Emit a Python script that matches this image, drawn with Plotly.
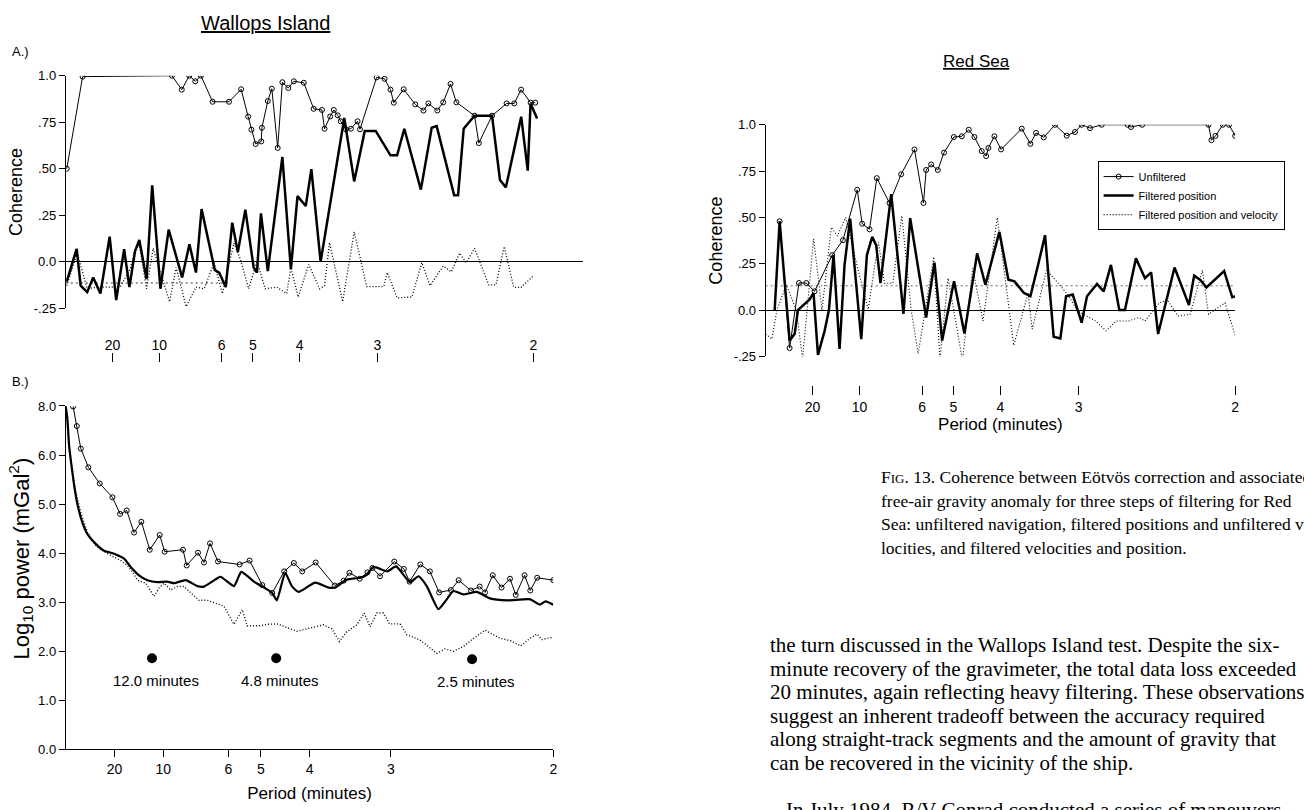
import plotly.graph_objects as go

W, H = 1304, 810

# ---------------- period ticks (x axis is frequency = 1/period) ----------------
period_ticks = [20, 10, 6, 5, 4, 3, 2]
tick_text = ["20", "10", "6", "5", "4", "3", "2"]
tick_freq = [1.0 / p for p in period_ticks]

# ---------------- Panel A: Wallops Island coherence ----------------
wa_unf_f = [0.001, 0.018, 0.1135, 0.124, 0.132, 0.1385, 0.1445, 0.157, 0.1745, 0.1875, 0.195, 0.1985, 0.203,
            0.209, 0.2097, 0.216, 0.2203, 0.2266, 0.2316, 0.2379, 0.2439, 0.2545, 0.2651, 0.2739, 0.2767, 0.2827,
            0.2866, 0.2908, 0.294, 0.2996, 0.3049, 0.312, 0.3146, 0.3324, 0.3409, 0.3472, 0.3507, 0.3613, 0.3737,
            0.3825, 0.3877, 0.3973, 0.4036, 0.4114, 0.4177, 0.4371, 0.4417, 0.4558, 0.4714, 0.4796, 0.4869,
            0.4971, 0.502]
wa_unf_c = [0.50, 0.995, 1.0, 0.925, 1.0, 0.97, 1.0, 0.86, 0.86, 0.927, 0.78, 0.71, 0.633, 0.647, 0.72, 0.864,
            0.93, 0.612, 0.965, 0.934, 0.97, 0.962, 0.822, 0.816, 0.715, 0.781, 0.816, 0.787, 0.755, 0.712, 0.715,
            0.755, 0.712, 0.991, 0.983, 0.925, 0.855, 0.927, 0.846, 0.813, 0.851, 0.813, 0.857, 0.956, 0.857,
            0.785, 0.638, 0.785, 0.851, 0.851, 0.925, 0.855, 0.855]

wa_pos_f = [0.001, 0.0116, 0.0159, 0.0229, 0.0293, 0.037, 0.0469, 0.0539, 0.0624, 0.068, 0.074, 0.0786, 0.0864,
            0.0924, 0.1012, 0.11, 0.1244, 0.1322, 0.1392, 0.1452, 0.1593, 0.164, 0.171, 0.178, 0.184, 0.192,
            0.2009, 0.2044, 0.2087, 0.216, 0.2316, 0.2407, 0.2478, 0.2566, 0.2626, 0.2725, 0.2978, 0.3084, 0.3197,
            0.3314, 0.3472, 0.3543, 0.362, 0.3797, 0.3913, 0.3966, 0.4153, 0.4195, 0.4255, 0.4371, 0.4558, 0.4643,
            0.4706, 0.487, 0.494, 0.497, 0.504]
wa_pos_c = [-0.107, 0.07, -0.128, -0.163, -0.084, -0.171, 0.135, -0.206, 0.068, -0.136, 0.056, 0.117, -0.093,
            0.411, -0.145, 0.173, -0.084, 0.094, -0.058, 0.283, -0.044, -0.058, -0.136, 0.21, 0.052, 0.28, -0.031,
            -0.058, 0.26, -0.05, 0.563, -0.04, 0.353, 0.30, 0.498, 0.0, 0.773, 0.432, 0.703, 0.703, 0.572, 0.572,
            0.715, 0.388, 0.72, 0.729, 0.357, 0.357, 0.715, 0.785, 0.785, 0.44, 0.40, 0.78, 0.49, 0.85, 0.77]

wa_pv_f = [0.001, 0.0123, 0.0229, 0.0335, 0.058, 0.0687, 0.074, 0.0786, 0.0864, 0.0934, 0.111, 0.118, 0.1287,
           0.1392, 0.148, 0.1586, 0.1674, 0.1798, 0.1868, 0.1956, 0.2044, 0.2133, 0.2255, 0.2362, 0.2407, 0.2485,
           0.2598, 0.2714, 0.2767, 0.282, 0.2961, 0.3084, 0.3218, 0.3401, 0.3437, 0.3543, 0.3701, 0.3807, 0.3895,
           0.4036, 0.4124, 0.4212, 0.4283, 0.4371, 0.4522, 0.46, 0.4688, 0.479, 0.487, 0.4997]
wa_pv_c = [-0.128, 0.047, -0.145, -0.136, -0.136, -0.04, 0.065, 0.09, -0.145, 0.073, -0.215, -0.031, -0.241,
           -0.136, -0.145, -0.005, -0.171, 0.1, 0.012, -0.145, 0.003, -0.145, -0.136, -0.171, -0.031, -0.189,
           -0.014, -0.145, -0.128, 0.103, -0.215, 0.161, -0.133, -0.133, -0.058, -0.194, -0.189, -0.005, -0.128,
           -0.023, -0.054, 0.047, -0.005, 0.073, -0.124, -0.124, 0.082, -0.137, -0.137, -0.077]
wa_sig_level = -0.114
wa_sig_fmax = 0.175

# ---------------- Panel B: Wallops Island log10 power ----------------
wb_unf_f = [0.0075, 0.0113, 0.0154, 0.0232, 0.0348, 0.0478, 0.0557, 0.0625, 0.07, 0.0775, 0.0861, 0.0963, 0.1014,
            0.1202, 0.124, 0.1356, 0.1417, 0.1479, 0.1561, 0.1783, 0.1885, 0.2015, 0.2117, 0.224, 0.2339, 0.2425,
            0.2563, 0.2759, 0.285, 0.2909, 0.3015, 0.3094, 0.3145, 0.3223, 0.3369, 0.3467, 0.3526, 0.3636, 0.3734,
            0.3829, 0.395, 0.4029, 0.4155, 0.4245, 0.43, 0.4379, 0.4469, 0.4556, 0.4615, 0.4705, 0.4764, 0.4835,
            0.5]
wb_unf_p = [7.98, 7.18, 6.26, 5.75, 5.42, 5.14, 4.8, 4.87, 4.42, 4.64, 4.07, 4.37, 4.03, 4.07, 3.75, 4.01, 3.81,
            4.2, 3.83, 3.77, 3.85, 3.35, 3.19, 3.63, 3.8, 3.63, 3.81, 3.34, 3.44, 3.6, 3.48, 3.61, 3.7, 3.53, 3.83,
            3.68, 3.42, 3.77, 3.63, 3.2, 3.25, 3.45, 3.24, 3.32, 3.2, 3.55, 3.3, 3.48, 3.15, 3.55, 3.24, 3.5, 3.45]

wb_pos_f = [0.0, 0.0017, 0.0034, 0.0058, 0.0085, 0.012, 0.0171, 0.0222, 0.0307, 0.0393, 0.0495, 0.0598, 0.0666,
            0.0751, 0.0837, 0.0939, 0.1042, 0.111, 0.123, 0.1349, 0.1417, 0.1554, 0.1588, 0.1725, 0.18, 0.193,
            0.2015, 0.2117, 0.2165, 0.225, 0.2318, 0.2387, 0.2558, 0.2695, 0.2763, 0.2882, 0.3019, 0.3087, 0.3156,
            0.3299, 0.3388, 0.3531, 0.3617, 0.3702, 0.3822, 0.3907, 0.3975, 0.4078, 0.4215, 0.4351, 0.4528,
            0.4764, 0.4862, 0.4921, 0.5]
wb_pos_p = [7.98, 7.44, 6.38, 5.79, 5.39, 4.99, 4.62, 4.39, 4.19, 4.05, 3.99, 3.89, 3.72, 3.55, 3.45, 3.41, 3.42,
            3.39, 3.45, 3.33, 3.32, 3.49, 3.52, 3.33, 3.62, 3.42, 3.32, 3.19, 3.04, 3.6, 3.33, 3.21, 3.4, 3.3, 3.3,
            3.46, 3.5, 3.56, 3.72, 3.63, 3.73, 3.41, 3.53, 3.33, 2.86, 3.06, 3.23, 3.16, 3.21, 3.08, 3.04, 3.06,
            2.95, 3.02, 2.95]

wb_pv_f = [0.0, 0.0034, 0.0068, 0.0102, 0.0154, 0.0222, 0.0307, 0.0427, 0.0564, 0.0632, 0.0683, 0.0734, 0.082,
           0.0905, 0.0956, 0.1008, 0.1076, 0.1144, 0.1212, 0.1281, 0.1366, 0.1452, 0.152, 0.1622, 0.1725, 0.181,
           0.1861, 0.1998, 0.2066, 0.2165, 0.237, 0.2507, 0.2643, 0.2729, 0.2807, 0.2882, 0.2985, 0.306, 0.3121,
           0.319, 0.3258, 0.332, 0.3429, 0.3497, 0.3634, 0.3805, 0.389, 0.3975, 0.4078, 0.418, 0.43, 0.445,
           0.4568, 0.4666, 0.4764, 0.4835, 0.4882, 0.5]
wb_pv_p = [7.9, 6.24, 5.69, 5.25, 4.82, 4.42, 4.15, 3.99, 3.85, 3.75, 3.62, 3.45, 3.39, 3.12, 3.29, 3.39, 3.25,
           3.32, 3.32, 3.19, 3.04, 3.04, 2.99, 2.92, 2.55, 2.85, 2.52, 2.52, 2.55, 2.56, 2.41, 2.48, 2.54, 2.46,
           2.2, 2.4, 2.54, 2.78, 2.5, 2.78, 2.78, 2.56, 2.56, 2.34, 2.23, 1.96, 2.05, 2.0, 2.1, 2.26, 2.43, 2.27,
           2.21, 2.11, 2.27, 2.35, 2.24, 2.29]

wb_marker_f = [0.0884, 0.2158, 0.4167]
wb_marker_p = [1.86, 1.86, 1.84]
wb_marker_text = ["12.0 minutes", "4.8 minutes", "2.5 minutes"]

wb_ticks = [0, 1, 2, 3, 4, 5, 6, 8]
wb_tick_text = ["0.0", "1.0", "2.0", "3.0", "4.0", "5.0", "6.0", "8.0"]

# ---------------- Red Sea coherence ----------------
rs_unf_f = [0.0149, 0.0255, 0.0355, 0.0433, 0.0521, 0.0709, 0.0823, 0.0975, 0.1028, 0.1106, 0.1184, 0.1319,
            0.1443, 0.1585, 0.1681, 0.1709, 0.1762, 0.1833, 0.19, 0.2004, 0.2089, 0.2163, 0.2223, 0.2301, 0.2348,
            0.2372, 0.2436, 0.2507, 0.2727, 0.2819, 0.2879, 0.2961, 0.3082, 0.3206, 0.3294, 0.3365, 0.3454,
            0.3578, 0.3855, 0.389, 0.4009, 0.4716, 0.4747, 0.479, 0.4869, 0.4934, 0.5]
rs_unf_c = [0.479, -0.205, 0.146, 0.146, 0.101, 0.297, 0.377, 0.649, 0.466, 0.436, 0.712, 0.578, 0.733, 0.867,
            0.578, 0.756, 0.786, 0.756, 0.85, 0.934, 0.938, 0.973, 0.934, 0.858, 0.831, 0.875, 0.938, 0.867, 0.979,
            0.897, 0.956, 0.932, 1.0, 0.941, 0.961, 1.0, 0.982, 1.0, 1.0, 0.988, 1.0, 1.0, 0.917, 0.94, 1.0, 1.0,
            0.94]

rs_pos_f = [0.0096, 0.0149, 0.0255, 0.0309, 0.0344, 0.0468, 0.051, 0.0557, 0.0628, 0.0674, 0.0723, 0.0787, 0.084,
            0.09, 0.1018, 0.1078, 0.1135, 0.1177, 0.1223, 0.1319, 0.1337, 0.1468, 0.1539, 0.1709, 0.1798, 0.1879,
            0.2006, 0.2117, 0.2252, 0.234, 0.2489, 0.2585, 0.2649, 0.2748, 0.2819, 0.2897, 0.2975, 0.3067, 0.3138,
            0.3199, 0.327, 0.3365, 0.3422, 0.3528, 0.3599, 0.3677, 0.3766, 0.3826, 0.3883, 0.3943, 0.4039, 0.4105,
            0.4179, 0.4354, 0.4507, 0.4563, 0.4629, 0.4694, 0.4882, 0.4969, 0.5]
rs_pos_c = [0.0, 0.479, -0.165, -0.128, 0.0, 0.057, 0.093, -0.242, -0.112, 0.0, 0.297, -0.21, 0.244, 0.493,
            -0.157, 0.297, 0.395, 0.35, 0.146, 0.546, 0.626, -0.02, 0.496, -0.04, 0.256, -0.165, 0.155, -0.126,
            0.306, 0.137, 0.422, 0.164, 0.155, 0.093, 0.075, 0.235, 0.404, -0.144, -0.153, 0.075, 0.084, -0.068,
            0.075, 0.141, 0.101, 0.244, 0.0, 0.0, 0.137, 0.279, 0.172, 0.204, -0.129, 0.23, 0.027, 0.186, 0.163,
            0.122, 0.211, 0.069, 0.074]

rs_pv_f = [0.0, 0.0066, 0.012, 0.022, 0.0326, 0.0393, 0.0511, 0.06, 0.0699, 0.0764, 0.0852, 0.098, 0.1092, 0.1201,
           0.1266, 0.1354, 0.145, 0.155, 0.1624, 0.179, 0.1856, 0.1943, 0.2096, 0.2205, 0.2314, 0.2467, 0.2642,
           0.2795, 0.2838, 0.2991, 0.3144, 0.3231, 0.3319, 0.3515, 0.3624, 0.3734, 0.3865, 0.3974, 0.4039, 0.4127,
           0.4192, 0.4279, 0.4389, 0.452, 0.4651, 0.4716, 0.4891, 0.5]
rs_pv_c = [-0.13, -0.156, 0.0, 0.137, 0.0, -0.262, 0.385, 0.0, 0.447, 0.40, 0.50, 0.225, 0.004, 0.367, 0.145,
           0.145, 0.509, 0.0, -0.236, 0.287, -0.262, 0.172, -0.271, 0.225, -0.059, 0.50, -0.19, 0.092, -0.103,
           0.216, 0.128, 0.074, -0.005, -0.059, -0.112, -0.059, -0.059, -0.04, -0.059, 0.0, 0.039, 0.055, -0.032,
           -0.023, 0.216, -0.023, 0.039, -0.138]
rs_sig_level = 0.131

coh_ticks = [-0.25, 0.0, 0.25, 0.5, 0.75, 1.0]
coh_tick_text = ["-.25", "0.0", ".25", ".50", ".75", "1.0"]

series_names = ["Unfiltered", "Filtered position", "Filtered position and velocity"]

caption_lines = [
    "F<span style='font-size:13px'>IG</span>. 13. Coherence between Eötvös correction and associated",
    "free-air gravity anomaly for three steps of filtering for Red",
    "Sea: unfiltered navigation, filtered positions and unfiltered ve-",
    "locities, and filtered velocities and position.",
]
body_lines = [
    "the turn discussed in the Wallops Island test. Despite the six-",
    "minute recovery of the gravimeter, the total data loss exceeded",
    "20 minutes, again reflecting heavy filtering. These observations",
    "suggest an inherent tradeoff between the accuracy required",
    "along straight-track segments and the amount of gravity that",
    "can be recovered in the vicinity of the ship.",
]
body_next_line = "In July 1984, R/V Conrad conducted a series of maneuvers"

# ---------------- helpers ----------------
SANS = "Liberation Sans"
SERIF = "Liberation Serif"


def px_x(p):
    return p / W


def px_y(p):
    return 1 - p / H


def broken_axis(vals):
    # the published power axis is compressed above 6.0 (6 -> 8 drawn in one unit)
    return [v if v <= 6 else 6 + (v - 6) / 2.0 for v in vals]


DOT = "1px,2px"
unf_style = dict(mode="lines+markers", line=dict(color="black", width=1),
                 marker=dict(symbol="circle-open", size=5, color="black", line=dict(width=1)))
pos_style = dict(mode="lines", line=dict(color="black", width=2.5))
pv_style = dict(mode="lines", line=dict(color="black", width=1.3, dash=DOT))

fig = go.Figure()

# Panel A
fig.add_trace(go.Scatter(x=wa_pv_f, y=wa_pv_c, xaxis="x", yaxis="y", showlegend=False, **pv_style))
fig.add_trace(go.Scatter(x=wa_pos_f, y=wa_pos_c, xaxis="x", yaxis="y", showlegend=False, **pos_style))
fig.add_trace(go.Scatter(x=wa_unf_f, y=wa_unf_c, xaxis="x", yaxis="y", showlegend=False, **unf_style))
fig.add_trace(go.Scatter(x=[0, wa_sig_fmax], y=[wa_sig_level, wa_sig_level], xaxis="x", yaxis="y",
                         mode="lines", line=dict(color="black", width=0.8, dash="2px,3px"), showlegend=False))
fig.add_trace(go.Scatter(x=[None], y=[None], xaxis="x4", yaxis="y", showlegend=False))

# Panel B
fig.add_trace(go.Scatter(x=wb_pv_f, y=broken_axis(wb_pv_p), xaxis="x2", yaxis="y2", showlegend=False,
                         mode="lines", line=dict(color="black", width=1.4, dash=DOT)))
fig.add_trace(go.Scatter(x=wb_pos_f, y=broken_axis(wb_pos_p), xaxis="x2", yaxis="y2", showlegend=False,
                         mode="lines", line=dict(color="black", width=2.2, shape="spline", smoothing=0.5)))
fig.add_trace(go.Scatter(x=wb_unf_f, y=broken_axis(wb_unf_p), xaxis="x2", yaxis="y2", showlegend=False,
                         **unf_style))
fig.add_trace(go.Scatter(x=wb_marker_f, y=wb_marker_p, xaxis="x2", yaxis="y2", mode="markers",
                         marker=dict(color="black", size=10), showlegend=False))

# Red Sea
fig.add_trace(go.Scatter(x=rs_unf_f, y=rs_unf_c, xaxis="x3", yaxis="y3", name=series_names[0], **unf_style))
fig.add_trace(go.Scatter(x=rs_pos_f, y=rs_pos_c, xaxis="x3", yaxis="y3", name=series_names[1], **pos_style))
fig.add_trace(go.Scatter(x=rs_pv_f, y=rs_pv_c, xaxis="x3", yaxis="y3", name=series_names[2],
                         mode="lines", line=dict(color="black", width=1.1, dash=DOT)))
fig.add_trace(go.Scatter(x=[0, 0.5], y=[rs_sig_level, rs_sig_level], xaxis="x3", yaxis="y3", mode="lines",
                         line=dict(color="black", width=0.6, dash="2px,3px"), showlegend=False))
fig.add_trace(go.Scatter(x=[None], y=[None], xaxis="x5", yaxis="y3", showlegend=False))

tickfont = dict(family=SANS, size=13, color="black")
xtickfont = dict(family=SANS, size=14, color="black")

coh_y = dict(range=[-0.25, 1.0], tickvals=coh_ticks, ticktext=coh_tick_text, showline=True, linecolor="black",
             linewidth=1, ticks="outside", ticklen=6, tickcolor="black", zeroline=True, zerolinecolor="black",
             zerolinewidth=1, showgrid=False, tickfont=tickfont,
             title=dict(text="Coherence", font=dict(family=SANS, size=18, color="black"), standoff=6))

A_x0, A_x1 = 66, 585
A_xmax = (A_x1 - A_x0) / 938.0
R_x0, R_x1 = 768, 1239

fig.update_layout(
    width=W, height=H, margin=dict(l=0, r=0, t=0, b=0),
    paper_bgcolor="white", plot_bgcolor="white",
    xaxis=dict(domain=[px_x(A_x0), px_x(A_x1)], range=[0, A_xmax], visible=False, anchor="y"),
    yaxis=dict(domain=[px_y(307), px_y(70)], anchor="x", **coh_y),
    xaxis4=dict(overlaying="x", range=[0, A_xmax], anchor="free", position=px_y(352), side="top",
                tickvals=tick_freq, ticktext=tick_text, ticks="inside", ticklen=9, tickcolor="black",
                showline=False, showgrid=False, zeroline=False, tickfont=xtickfont),
    xaxis2=dict(domain=[px_x(66), px_x(555)], range=[0, 0.5], anchor="y2", tickvals=tick_freq,
                ticktext=tick_text, showline=True, linecolor="black", ticks="outside", ticklen=7,
                tickcolor="black", showgrid=False, zeroline=False, tickfont=xtickfont,
                title=dict(text="Period (minutes)", font=dict(family=SANS, size=17, color="black"), standoff=10)),
    yaxis2=dict(domain=[px_y(756.5), px_y(406.5)], range=[0, 7], anchor="x2",
                tickvals=broken_axis(wb_ticks), ticktext=wb_tick_text, showline=True, linecolor="black",
                ticks="outside", ticklen=6, tickcolor="black", showgrid=False, zeroline=False, tickfont=tickfont),
    xaxis3=dict(domain=[px_x(R_x0), px_x(R_x1)], range=[0, 0.5], visible=False, anchor="y3"),
    yaxis3=dict(domain=[px_y(356), px_y(120)], anchor="x3", **coh_y),
    xaxis5=dict(overlaying="x3", range=[0, 0.5], anchor="free", position=px_y(385), side="bottom",
                tickvals=tick_freq, ticktext=tick_text, ticks="outside", ticklen=9, tickcolor="black",
                showline=False, showgrid=False, zeroline=False, tickfont=xtickfont,
                title=dict(text="Period (minutes)", font=dict(family=SANS, size=17, color="black"), standoff=3)),
    legend=dict(x=px_x(1101), y=px_y(157), xanchor="left", yanchor="top", bordercolor="black", borderwidth=1,
                bgcolor="white", font=dict(family=SANS, size=11, color="black"), tracegroupgap=0,
                itemwidth=30),
    showlegend=True,
)

ann = []


def add_text(text, x, y, size, family=SANS, xanchor="center", angle=0, **font_extra):
    ann.append(dict(text=text, x=px_x(x), y=px_y(y), xref="paper", yref="paper", showarrow=False,
                    xanchor=xanchor, yanchor="middle", textangle=angle,
                    font=dict(family=family, size=size, color="black", **font_extra)))


add_text("Wallops Island", 266, 16, 20, lineposition="under")
add_text("Red Sea", 980, 56, 17, lineposition="under")
add_text("A.)", 10, 45, 13, xanchor="left")
add_text("B.)", 10, 382, 13, xanchor="left")
add_text("Log<sub>10</sub> power (mGal<sup>2</sup>)", 21, 562, 22, angle=-90)
for f, p, t in zip(wb_marker_f, wb_marker_p, wb_marker_text):
    ann.append(dict(text=t, x=f, y=p, xref="x2", yref="y2", showarrow=False, yshift=-22, xshift=4,
                    xanchor="center", yanchor="middle", font=dict(family=SANS, size=15, color="black")))
for i, line in enumerate(caption_lines):
    add_text(line, 882, 479 + 24 * i, 17.5, family=SERIF, xanchor="left")
for i, line in enumerate(body_lines):
    add_text(line, 770, 650 + 24 * i, 21, family=SERIF, xanchor="left")
add_text(body_next_line, 786, 818, 21, family=SERIF, xanchor="left")
fig.update_layout(annotations=ann)

fig.write_html("out.html", config={"displayModeBar": False},
               post_script="document.body.style.margin='0';document.body.style.overflow='hidden';")
